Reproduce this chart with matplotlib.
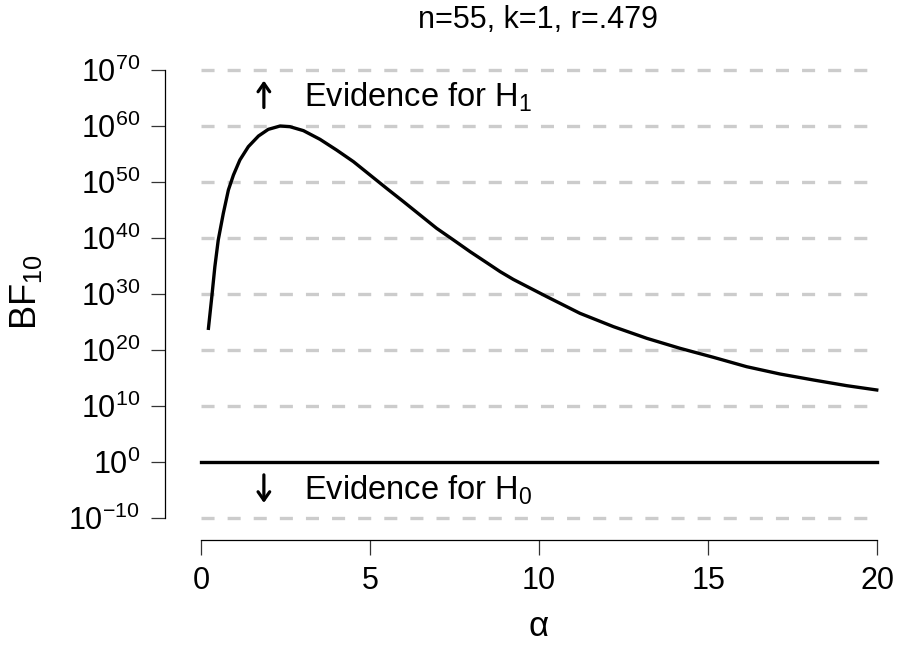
import matplotlib
matplotlib.use("Agg")
import matplotlib.pyplot as plt
import numpy as np
from matplotlib.ticker import FixedLocator, LogFormatterMathtext, NullLocator

plt.rcParams["font.family"] = ["Liberation Sans", "DejaVu Sans"]
plt.rcParams["mathtext.fontset"] = "custom"
plt.rcParams["mathtext.rm"] = "Liberation Sans"
plt.rcParams["mathtext.it"] = "Liberation Sans:italic"
plt.rcParams["mathtext.default"] = "regular"
plt.rcParams["lines.scale_dashes"] = False

# values (log10 BF10 against alpha)
alpha = [0.22, 0.32, 0.41, 0.51, 0.66, 0.81, 0.96, 1.15, 1.40, 1.70, 1.99,
         2.34, 2.63, 3.03, 3.52, 4.01, 4.51, 5.00, 5.49, 5.99, 6.48, 6.97,
         7.47, 7.96, 8.45, 8.85, 9.24, 10.23, 11.21, 12.20, 13.19, 14.17,
         15.16, 16.14, 17.13, 18.12, 19.10, 19.99]
log_bf = [23.87, 29.52, 34.88, 39.64, 44.40, 48.57, 51.25, 53.93, 56.31,
          58.21, 59.40, 60.00, 59.88, 59.17, 57.62, 55.71, 53.63, 51.25,
          48.87, 46.49, 44.11, 41.73, 39.64, 37.56, 35.60, 33.99, 32.60,
          29.52, 26.55, 24.17, 22.08, 20.30, 18.69, 17.02, 15.71, 14.64,
          13.63, 12.86]
y_decades = [-10, 0, 10, 20, 30, 40, 50, 60, 70]
x_ticks = [0, 5, 10, 15, 20]
title = "n=55, k=1, r=.479"

fig = plt.figure(figsize=(8.99, 6.46), dpi=100)
ax = fig.add_axes([165 / 899, 1 - 540 / 646, (894 - 165) / 899, (540 - 58.8) / 646])

ax.set_yscale("log")
ax.set_xlim(-1.065, 20.5)
ax.set_ylim(10.0 ** -13.93, 10.0 ** 72)

for d in y_decades:
    if d == 0:
        continue
    ax.plot([0, 20], [10.0 ** d, 10.0 ** d], color="#cccccc", lw=2.4,
            dashes=(9.4, 9.4), zorder=1)
ax.plot([0, 20], [1, 1], color="black", lw=2.4, zorder=2)
ax.plot(alpha, 10.0 ** np.array(log_bf), color="black", lw=2.4, zorder=3)

ax.yaxis.set_major_locator(FixedLocator([10.0 ** d for d in y_decades]))
ax.yaxis.set_major_formatter(LogFormatterMathtext())
ax.yaxis.set_minor_locator(NullLocator())
ax.set_xticks(x_ticks)

for s in ["top", "right"]:
    ax.spines[s].set_visible(False)
ax.spines["left"].set_bounds(10.0 ** -10, 10.0 ** 70)
ax.spines["bottom"].set_bounds(0, 20)
ax.spines["left"].set_linewidth(0.9)
ax.spines["bottom"].set_linewidth(0.9)
ax.tick_params(axis="both", width=0.9, labelsize=22, color="#333333")
ax.tick_params(axis="y", length=10, pad=8)
ax.tick_params(axis="x", length=11, pad=8)

ax.set_ylabel("BF$_{10}$", fontsize=26)
ax.yaxis.set_label_coords(26 / 899, 1 - 292 / 646, transform=fig.transFigure)
ax.yaxis.label.set_va("center")
ax.set_xlabel("α", fontsize=25)
ax.xaxis.set_label_coords(539 / 899, 1 - 626 / 646, transform=fig.transFigure)
ax.xaxis.label.set_va("center")
fig.text(538 / 899, 1 - 20 / 646, title, ha="center", va="center", fontsize=22)

# evidence annotations
arrow = dict(arrowstyle="->,head_length=0.6,head_width=0.42", lw=2.3, color="black")
ax.annotate("", xy=(1.86, 10.0 ** 68.6), xytext=(1.86, 10.0 ** 62.8), arrowprops=arrow)
ax.annotate("", xy=(1.86, 10.0 ** -7.8), xytext=(1.86, 10.0 ** -1.8), arrowprops=arrow)
ax.text(3.05, 10.0 ** 65.2, "Evidence for H$_1$", fontsize=23.5, va="center", ha="left")
ax.text(3.05, 10.0 ** -5.0, "Evidence for H$_0$", fontsize=23.5, va="center", ha="left")

fig.savefig("out.png", dpi=100)
